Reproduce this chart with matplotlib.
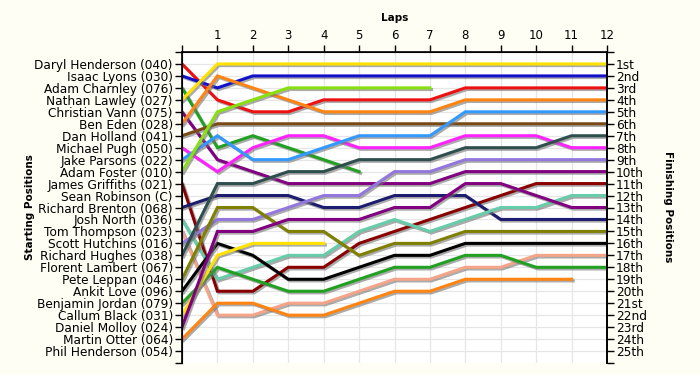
import matplotlib
matplotlib.use("Agg")
import matplotlib.pyplot as plt
import matplotlib.patheffects as pe

# ------------------------ DATA ------------------------

laps = list(range(13))

drivers = [
    "Daryl Henderson (040)", "Isaac Lyons (030)", "Adam Charnley (076)",
    "Nathan Lawley (027)", "Christian Vann (075)", "Ben Eden (028)",
    "Dan Holland (041)", "Michael Pugh (050)", "Jake Parsons (022)",
    "Adam Foster (010)", "James Griffiths (021)", "Sean Robinson (C)",
    "Richard Brenton (068)", "Josh North (036)", "Tom Thompson (023)",
    "Scott Hutchins (016)", "Richard Hughes (038)", "Florent Lambert (067)",
    "Pete Leppan (046)", "Ankit Love (096)", "Benjamin Jordan (079)",
    "Callum Black (031)", "Daniel Molloy (024)", "Martin Otter (064)",
    "Phil Henderson (054)",
]

finish_labels = [
    "1st", "2nd", "3rd", "4th", "5th", "6th", "7th", "8th", "9th", "10th",
    "11th", "12th", "13th", "14th", "15th", "16th", "17th", "18th", "19th",
    "20th", "21st", "22nd", "23rd", "24th", "25th",
]

# position at each lap (lap 0 = grid); lists stop when a driver retired
daryl_henderson = [1, 4, 5, 5, 4, 4, 4, 4, 3, 3, 3, 3, 3]
isaac_lyons = [2, 3, 2, 2, 2, 2, 2, 2, 2, 2, 2, 2, 2]
adam_charnley = [3, 8, 7, 8, 9, 10]
nathan_lawley = [4, 1, 1, 1, 1, 1, 1, 1, 1, 1, 1, 1, 1]
christian_vann = [5, 9, 10, 11, 11, 11, 11, 11, 10, 10, 10, 10, 10]
ben_eden = [6, 2, 3, 4, 5, 5, 5, 5, 4, 4, 4, 4, 4]
dan_holland = [7, 6, 6, 6, 6, 6, 6, 6, 6, 6, 6, 6, 6]
michael_pugh = [8, 10, 8, 7, 7, 8, 8, 8, 7, 7, 7, 8, 8]
jake_parsons = [9, 7, 9, 9, 8, 7, 7, 7, 5, 5, 5, 5, 5]
adam_foster = [10, 5, 4, 3, 3, 3, 3, 3]
james_griffiths = [11, 20, 20, 18, 18, 16, 15, 14, 13, 12, 11, 11, 11]
richard_brenton = [13, 12, 12, 12, 13, 13, 12, 12, 12, 14, 14, 14, 14]
josh_north = [14, 19, 18, 17, 17, 15, 14, 15, 14, 13, 13, 12, 12]
tom_thompson = [15, 22, 22, 21, 21, 20, 19, 19, 18, 18, 17, 17, 17]
scott_hutchins = [16, 14, 14, 13, 12, 12, 10, 10, 9, 9, 9, 9, 9]
richard_hughes = [17, 11, 11, 10, 10, 9, 9, 9, 8, 8, 8, 7, 7]
pete_leppan = [19, 13, 13, 15, 15, 17, 16, 16, 15, 15, 15, 15, 15]
ankit_love = [20, 16, 17, 19, 19, 18, 17, 17, 16, 16, 16, 16, 16]
benjamin_jordan = [21, 18, 19, 20, 20, 19, 18, 18, 17, 17, 18, 18, 18]
callum_black = [22, 17, 16, 16, 16]
daniel_molloy = [23, 15, 15, 14, 14, 14, 13, 13, 11, 11, 12, 13, 13]
martin_otter = [24, 21, 21, 22, 22, 21, 20, 20, 19, 19, 19, 19]

series = [
    daryl_henderson, isaac_lyons, adam_charnley, nathan_lawley, christian_vann,
    ben_eden, dan_holland, michael_pugh, jake_parsons, adam_foster,
    james_griffiths, richard_brenton, josh_north, tom_thompson, scott_hutchins,
    richard_hughes, pete_leppan, ankit_love, benjamin_jordan, callum_black,
    daniel_molloy, martin_otter,
]

colours = [
    "#ee1111", "#1111cc", "#22a022", "#ffe200", "#800080",
    "#ff8412", "#7a4a14", "#ff22ff", "#3399ff", "#88e010",
    "#880000", "#1c1c70", "#66ccaa", "#f4a488", "#9377dd",
    "#2f4f4f", "#808000", "#000000", "#22a022", "#ffe200",
    "#800080", "#ff8412",
]

# ------------------------ PLOT ------------------------

plt.rcParams["font.family"] = "DejaVu Sans"
BG = "#fefef4"

fig = plt.figure(figsize=(7, 3.75), dpi=100, facecolor=BG)
ax = fig.add_axes([182 / 700, 1 - 363 / 375, 425 / 700, 311 / 375])
ax.set_facecolor("white")

shadow = [pe.SimpleLineShadow(offset=(1.2, -1.2), shadow_color="0.45", alpha=0.6),
          pe.Normal()]

for pos, col in zip(series, colours):
    ax.plot(laps[:len(pos)], pos, color=col, lw=2.2, zorder=3,
            solid_joinstyle="miter", path_effects=shadow)

ax.set_xlim(0, 12)
ax.set_ylim(26, 0)

# grid lines
for x in range(1, 12):
    ax.axvline(x, color="#e6e6e6", lw=0.9, zorder=1)
for y in range(1, 26):
    ax.axhline(y, color="#e6e6e6", lw=0.9, zorder=1)

ax.xaxis.tick_top()
ax.set_xticks(laps)
ax.set_xticklabels([""] + [str(i) for i in laps[1:]], fontsize=8.5)
ax.tick_params(axis="x", length=5, width=1, pad=2, color="black")

ax.set_yticks(range(0, 27))
ax.set_yticklabels([""] + drivers + [""], fontsize=8.7)
ax.tick_params(axis="y", length=5, width=1, pad=1.5)

ax.spines["bottom"].set_visible(False)
for s in ["top", "left", "right"]:
    ax.spines[s].set_linewidth(1.2)

ax2 = ax.twinx()
ax2.set_ylim(26, 0)
ax2.set_yticks(range(0, 27))
ax2.set_yticklabels([""] + finish_labels + [""], fontsize=8.7)
ax2.tick_params(axis="y", length=5, width=1, pad=1.5)
ax2.spines["bottom"].set_visible(False)
ax2.spines["right"].set_linewidth(1.2)

fig.text(395 / 700, 1 - 18 / 375, "Laps", fontsize=7.5, fontweight="bold",
         ha="center", va="center")
fig.text(30 / 700, 1 - 207 / 375, "Starting Positions", fontsize=7.5,
         fontweight="bold", rotation=90, ha="center", va="center")
fig.text(668 / 700, 1 - 207 / 375, "Finishing Positions", fontsize=7.5,
         fontweight="bold", rotation=270, ha="center", va="center")

fig.savefig("out.png", dpi=100, facecolor=BG)
